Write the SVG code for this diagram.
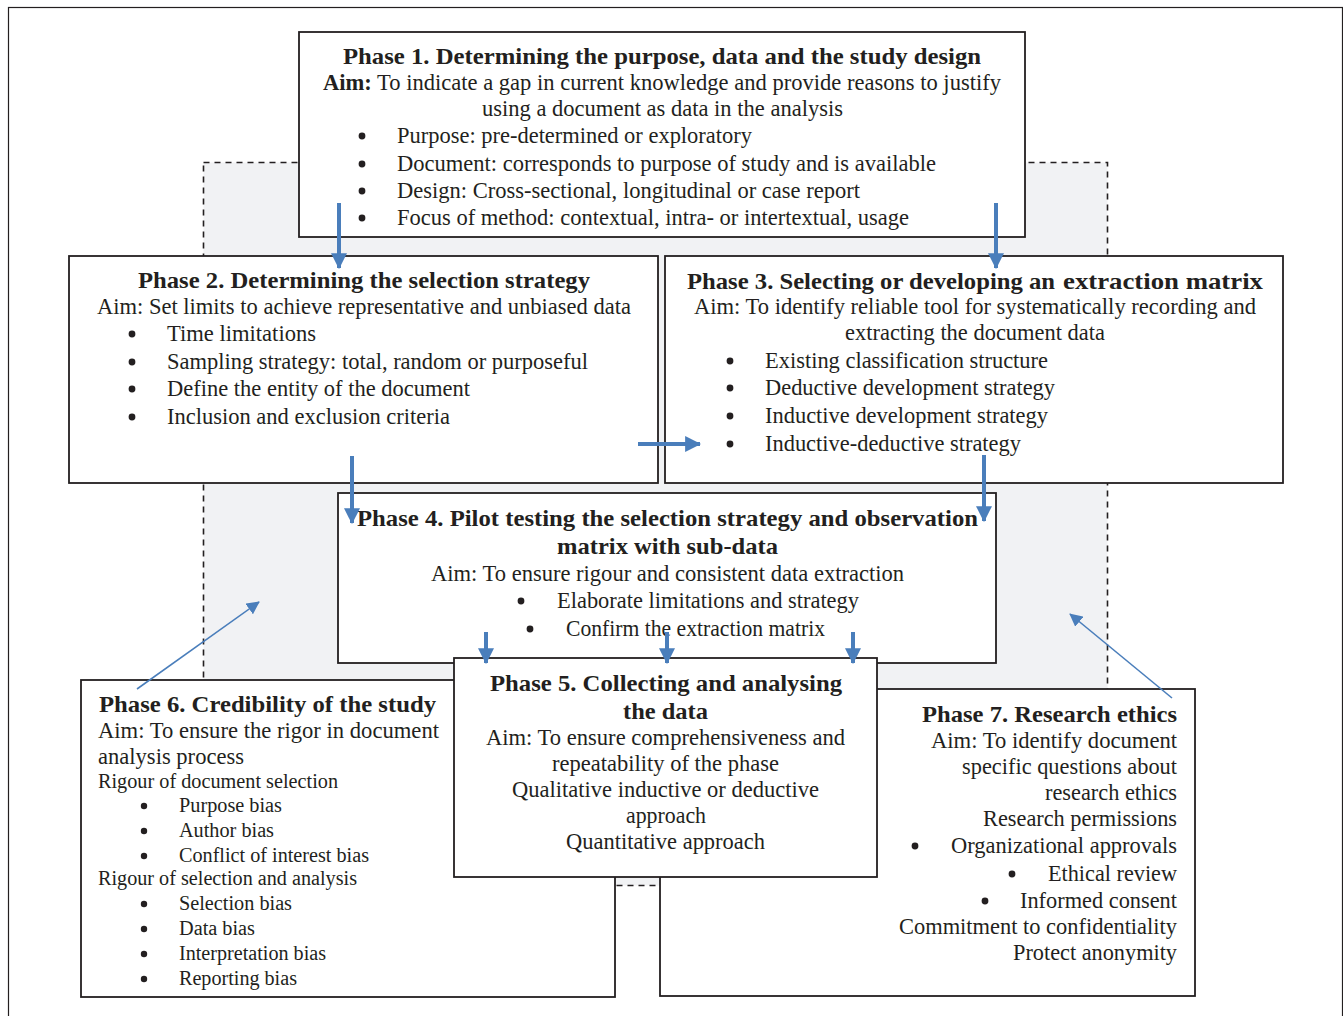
<svg xmlns="http://www.w3.org/2000/svg" width="1343" height="1016" viewBox="0 0 1343 1016">
<style>
text{font-family:"Liberation Serif","Times New Roman",serif;fill:#231f20;font-size:22.5px}
.b{font-weight:bold}
.s{font-size:20px}
.box{fill:#fff;stroke:#231f20;stroke-width:1.8}
.dot{fill:#231f20}
.ar{stroke:#4a7ebb;stroke-width:4;fill:none}
.thin{stroke:#4a7ebb;stroke-width:1.6;fill:none}
</style>
<defs>
<marker id="ah" markerUnits="userSpaceOnUse" markerWidth="16" markerHeight="16" viewBox="0 0 14 14" refX="13" refY="7" orient="auto"><path d="M0,0 L14,7 L0,14 Z" fill="#4a7ebb"/></marker>
<marker id="ah2" markerUnits="userSpaceOnUse" markerWidth="13" markerHeight="13" viewBox="0 0 14 14" refX="13" refY="7" orient="auto"><path d="M0,0 L14,7 L0,14 Z" fill="#4a7ebb"/></marker>
</defs>
<rect width="1343" height="1016" fill="#fff"/>
<rect x="8.5" y="7.5" width="1334" height="1020" fill="none" stroke="#231f20" stroke-width="1.2"/>
<rect id="region" x="203.5" y="162.5" width="904" height="723" fill="#f1f2f4" stroke="#231f20" stroke-width="1.6" stroke-dasharray="6,5"/>

<g id="phase1">
<rect class="box" x="299" y="32" width="726" height="205"/>
<text class="b" x="343" y="64" textLength="638" lengthAdjust="spacingAndGlyphs">Phase 1. Determining the purpose, data and the study design</text>
<text x="323" y="90" textLength="678" lengthAdjust="spacingAndGlyphs"><tspan class="b">Aim:</tspan> To indicate a gap in current knowledge and provide reasons to justify</text>
<text x="482" y="116" textLength="361" lengthAdjust="spacingAndGlyphs">using a document as data in the analysis</text>
<circle class="dot" cx="362" cy="136" r="3.4"/><text x="397" y="143" textLength="355" lengthAdjust="spacingAndGlyphs">Purpose: pre-determined or exploratory</text>
<circle class="dot" cx="362" cy="164" r="3.4"/><text x="397" y="171" textLength="539" lengthAdjust="spacingAndGlyphs">Document: corresponds to purpose of study and is available</text>
<circle class="dot" cx="362" cy="191" r="3.4"/><text x="397" y="198" textLength="463" lengthAdjust="spacingAndGlyphs">Design: Cross-sectional, longitudinal or case report</text>
<circle class="dot" cx="362" cy="218" r="3.4"/><text x="397" y="225" textLength="512" lengthAdjust="spacingAndGlyphs">Focus of method: contextual, intra- or intertextual, usage</text>
</g>

<g id="phase2">
<rect class="box" x="69" y="256" width="589" height="227"/>
<text class="b" x="138" y="288" textLength="452" lengthAdjust="spacingAndGlyphs">Phase 2. Determining the selection strategy</text>
<text x="97" y="314" textLength="534" lengthAdjust="spacingAndGlyphs">Aim: Set limits to achieve representative and unbiased data</text>
<circle class="dot" cx="132" cy="334" r="3.4"/><text x="167" y="341" textLength="149" lengthAdjust="spacingAndGlyphs">Time limitations</text>
<circle class="dot" cx="132" cy="362" r="3.4"/><text x="167" y="369" textLength="421" lengthAdjust="spacingAndGlyphs">Sampling strategy: total, random or purposeful</text>
<circle class="dot" cx="132" cy="389" r="3.4"/><text x="167" y="396" textLength="303" lengthAdjust="spacingAndGlyphs">Define the entity of the document</text>
<circle class="dot" cx="132" cy="417" r="3.4"/><text x="167" y="424" textLength="283" lengthAdjust="spacingAndGlyphs">Inclusion and exclusion criteria</text>
</g>

<g id="phase3">
<rect class="box" x="665" y="256" width="618" height="227"/>
<text class="b" x="687" y="289" font-size="24" textLength="368" lengthAdjust="spacingAndGlyphs">Phase 3. Selecting or developing an</text>
<text class="b" x="1063" y="289" font-size="25.5" textLength="200" lengthAdjust="spacingAndGlyphs">extraction matrix</text>
<text x="694" y="314" textLength="562" lengthAdjust="spacingAndGlyphs">Aim: To identify reliable tool for systematically recording and</text>
<text x="845" y="340" textLength="260" lengthAdjust="spacingAndGlyphs">extracting the document data</text>
<circle class="dot" cx="730" cy="361" r="3.4"/><text x="765" y="368" textLength="283" lengthAdjust="spacingAndGlyphs">Existing classification structure</text>
<circle class="dot" cx="730" cy="388" r="3.4"/><text x="765" y="395" textLength="290" lengthAdjust="spacingAndGlyphs">Deductive development strategy</text>
<circle class="dot" cx="730" cy="416" r="3.4"/><text x="765" y="423" textLength="283" lengthAdjust="spacingAndGlyphs">Inductive development strategy</text>
<circle class="dot" cx="730" cy="444" r="3.4"/><text x="765" y="451" textLength="256" lengthAdjust="spacingAndGlyphs">Inductive-deductive strategy</text>
</g>

<g id="phase4">
<rect class="box" x="338" y="493" width="658" height="170"/>
<text class="b" x="357" y="526" textLength="621" lengthAdjust="spacingAndGlyphs">Phase 4. Pilot testing the selection strategy and observation</text>
<text class="b" x="557" y="554" textLength="221" lengthAdjust="spacingAndGlyphs">matrix with sub-data</text>
<text x="431" y="581" textLength="473" lengthAdjust="spacingAndGlyphs">Aim: To ensure rigour and consistent data extraction</text>
<circle class="dot" cx="521" cy="601" r="3.4"/><text x="557" y="608" textLength="302" lengthAdjust="spacingAndGlyphs">Elaborate limitations and strategy</text>
<circle class="dot" cx="530" cy="629" r="3.4"/><text x="566" y="636" textLength="259" lengthAdjust="spacingAndGlyphs">Confirm the extraction matrix</text>
</g>

<g id="phase6">
<rect class="box" x="81" y="680" width="534" height="317"/>
<text class="b" x="99" y="712" textLength="337" lengthAdjust="spacingAndGlyphs">Phase 6. Credibility of the study</text>
<text x="98" y="738" textLength="341" lengthAdjust="spacingAndGlyphs">Aim: To ensure the rigor in document</text>
<text x="98" y="764" textLength="146" lengthAdjust="spacingAndGlyphs">analysis process</text>
<text class="s" x="98" y="788" textLength="240" lengthAdjust="spacingAndGlyphs">Rigour of document selection</text>
<circle class="dot" cx="144" cy="806" r="3.2"/><text class="s" x="179" y="812" textLength="103" lengthAdjust="spacingAndGlyphs">Purpose bias</text>
<circle class="dot" cx="144" cy="831" r="3.2"/><text class="s" x="179" y="837" textLength="95" lengthAdjust="spacingAndGlyphs">Author bias</text>
<circle class="dot" cx="144" cy="856" r="3.2"/><text class="s" x="179" y="862" textLength="190" lengthAdjust="spacingAndGlyphs">Conflict of interest bias</text>
<text class="s" x="98" y="885" textLength="259" lengthAdjust="spacingAndGlyphs">Rigour of selection and analysis</text>
<circle class="dot" cx="144" cy="904" r="3.2"/><text class="s" x="179" y="910" textLength="113" lengthAdjust="spacingAndGlyphs">Selection bias</text>
<circle class="dot" cx="144" cy="929" r="3.2"/><text class="s" x="179" y="935" textLength="76" lengthAdjust="spacingAndGlyphs">Data bias</text>
<circle class="dot" cx="144" cy="954" r="3.2"/><text class="s" x="179" y="960" textLength="147" lengthAdjust="spacingAndGlyphs">Interpretation bias</text>
<circle class="dot" cx="144" cy="979" r="3.2"/><text class="s" x="179" y="985" textLength="118" lengthAdjust="spacingAndGlyphs">Reporting bias</text>
</g>

<g id="phase7">
<rect class="box" x="660" y="689" width="535" height="307"/>
<text class="b" x="922" y="722" textLength="255" lengthAdjust="spacingAndGlyphs">Phase 7. Research ethics</text>
<text x="931" y="748" textLength="246" lengthAdjust="spacingAndGlyphs">Aim: To identify document</text>
<text x="962" y="774" textLength="215" lengthAdjust="spacingAndGlyphs">specific questions about</text>
<text x="1045" y="800" textLength="132" lengthAdjust="spacingAndGlyphs">research ethics</text>
<text x="983" y="826" textLength="194" lengthAdjust="spacingAndGlyphs">Research permissions</text>
<circle class="dot" cx="915" cy="846" r="3.4"/><text x="951" y="853" textLength="226" lengthAdjust="spacingAndGlyphs">Organizational approvals</text>
<circle class="dot" cx="1012" cy="874" r="3.4"/><text x="1048" y="881" textLength="129" lengthAdjust="spacingAndGlyphs">Ethical review</text>
<circle class="dot" cx="985" cy="901" r="3.4"/><text x="1020" y="908" textLength="157" lengthAdjust="spacingAndGlyphs">Informed consent</text>
<text x="899" y="934" textLength="278" lengthAdjust="spacingAndGlyphs">Commitment to confidentiality</text>
<text x="1013" y="960" textLength="164" lengthAdjust="spacingAndGlyphs">Protect anonymity</text>
</g>

<g id="phase5">
<rect class="box" x="454" y="658" width="423" height="219"/>
<text class="b" x="490" y="691" textLength="352" lengthAdjust="spacingAndGlyphs">Phase 5. Collecting and analysing</text>
<text class="b" x="623" y="719" textLength="85" lengthAdjust="spacingAndGlyphs">the data</text>
<text x="486" y="745" textLength="359" lengthAdjust="spacingAndGlyphs">Aim: To ensure comprehensiveness and</text>
<text x="552" y="771" textLength="227" lengthAdjust="spacingAndGlyphs">repeatability of the phase</text>
<text x="512" y="797" textLength="307" lengthAdjust="spacingAndGlyphs">Qualitative inductive or deductive</text>
<text x="626" y="823" textLength="80" lengthAdjust="spacingAndGlyphs">approach</text>
<text x="566" y="849" textLength="199" lengthAdjust="spacingAndGlyphs">Quantitative approach</text>
</g>

<g id="connectors">
<line class="ar" x1="339" y1="203" x2="339" y2="268" marker-end="url(#ah)"/>
<line class="ar" x1="996" y1="203" x2="996" y2="268" marker-end="url(#ah)"/>
<line class="ar" x1="638" y1="444" x2="700" y2="444" marker-end="url(#ah)"/>
<line class="ar" x1="352" y1="456" x2="352" y2="523" marker-end="url(#ah)"/>
<line class="ar" x1="984" y1="455" x2="984" y2="521" marker-end="url(#ah)"/>
<line class="ar" x1="486" y1="632" x2="486" y2="663" marker-end="url(#ah)"/>
<line class="ar" x1="667" y1="632" x2="667" y2="663" marker-end="url(#ah)"/>
<line class="ar" x1="853" y1="632" x2="853" y2="663" marker-end="url(#ah)"/>
<line class="thin" x1="137" y1="689" x2="259" y2="602" marker-end="url(#ah2)"/>
<line class="thin" x1="1172" y1="698" x2="1070" y2="614" marker-end="url(#ah2)"/>
</g>
</svg>
